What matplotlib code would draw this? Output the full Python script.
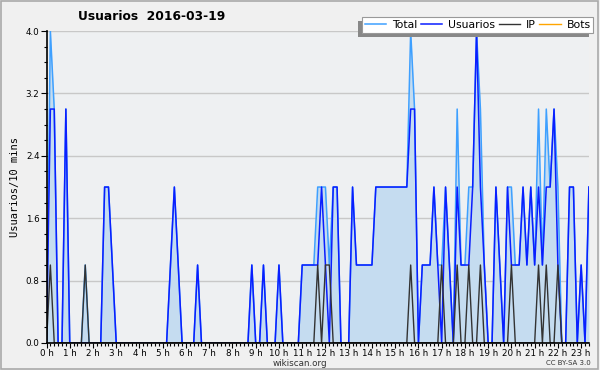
import numpy as np
import matplotlib
matplotlib.use("Agg")
import matplotlib.pyplot as plt
from matplotlib.ticker import MultipleLocator, FixedLocator, FormatStrFormatter
import matplotlib.patheffects as pe

# 10-minute slots from 00:00 to 23:20
usuarios = [0, 3, 3, 0, 0, 3, 0, 0, 0, 0, 0, 0, 0, 0, 0, 2, 2, 1, 0, 0,
            0, 0, 0, 0, 0, 0, 0, 0, 0, 0, 0, 0, 1, 2, 1, 0, 0, 0, 0, 1,
            0, 0, 0, 0, 0, 0, 0, 0, 0, 0, 0, 0, 0, 1, 0, 0, 1, 0, 0, 0,
            1, 0, 0, 0, 0, 0, 1, 1, 1, 1, 1, 2, 1, 0, 2, 2, 0, 0, 0, 2,
            1, 1, 1, 1, 1, 2, 2, 2, 2, 2, 2, 2, 2, 2, 3, 3, 0, 1, 1, 1,
            2, 1, 0, 2, 1, 0, 2, 1, 1, 1, 2, 4, 2, 1, 0, 0, 2, 1, 0, 2,
            1, 1, 1, 2, 1, 2, 1, 2, 1, 2, 2, 3, 1, 0, 0, 2, 2, 0, 1, 0,
            2]
ip = [0] * len(usuarios)
for k in [1, 10, 70, 72, 73, 94, 102, 106, 109, 112, 120, 127, 129, 132]:
    ip[k] = 1
bots = [0] * len(usuarios)
total = [u + i + b for u, i, b in zip(usuarios, ip, bots)]

hour_labels = [f"{h} h" for h in range(24)]

plt.rcParams['font.family'] = ['DejaVu Sans']
fig = plt.figure(figsize=(6.0, 3.7), dpi=100, facecolor='#f0f0f0')
ax = fig.add_axes([0.0775, 0.073, 0.904, 0.843])
ax.set_facecolor('#eef0f2')

x = np.arange(len(usuarios))
ax.fill_between(x, total, 0, color='#c5dcf0', lw=0, zorder=1)
ax.plot(x, bots, color='#ffa500', lw=1.0, zorder=1.5, label='Bots')
ax.plot(x, total, color='#3ea0ff', lw=1.1, zorder=2, label='Total')
ax.plot(x, usuarios, color='#0a1eff', lw=1.1, zorder=3, label='Usuarios')
ax.plot(x, ip, color='#333333', lw=1.0, zorder=4, label='IP')

ax.set_xlim(0, len(usuarios) - 1)
ax.set_ylim(0, 4.0)
ax.yaxis.set_major_locator(MultipleLocator(0.8))
ax.yaxis.set_minor_locator(MultipleLocator(0.2))
ax.yaxis.set_major_formatter(FormatStrFormatter('%.1f'))
ax.xaxis.set_major_locator(FixedLocator(np.arange(0, 144, 6)))
ax.set_xticklabels(hour_labels)
ax.xaxis.set_minor_locator(MultipleLocator(1))
ax.grid(axis='y', which='major', color='#c8c8c8', lw=1.0, zorder=0.5)
ax.set_axisbelow(True)

for s in ['top', 'right']:
    ax.spines[s].set_visible(False)
for s in ['left', 'bottom']:
    ax.spines[s].set_color('black')
    ax.spines[s].set_linewidth(1.2)
    ax.spines[s].set_zorder(5)

ax.tick_params(axis='both', which='major', labelsize=6.3, length=4, width=0.8, color='black', pad=1)
ax.tick_params(axis='both', which='minor', length=2.5, width=0.8, color='black')
ax.tick_params(axis='x', which='major', length=3.5, pad=0.5)

ax.set_ylabel('Usuarios/10 mins', family='DejaVu Sans Mono', fontsize=7.5, labelpad=4)

fig.text(0.252, 0.955, 'Usuarios  2016-03-19', ha='center', va='center',
         fontsize=8.8, fontweight='bold')
fig.text(0.5, 0.018, 'wikiscan.org', ha='center', va='center', fontsize=6.3, color='#333333')
fig.text(0.984, 0.018, 'CC BY-SA 3.0', ha='right', va='center', fontsize=5, color='#333333')

handles, labels = ax.get_legend_handles_labels()
order = [labels.index(n) for n in ['Total', 'Usuarios', 'IP', 'Bots']]
leg = ax.legend([handles[i] for i in order], [labels[i] for i in order],
                loc='lower right', bbox_to_anchor=(1.008, 0.995), ncol=4,
                fontsize=7.8, frameon=True, fancybox=False, shadow=False,
                handlelength=2.0, handletextpad=0.5, columnspacing=0.35,
                borderpad=0.25, borderaxespad=0.0)
leg.get_frame().set_edgecolor('#999999')
leg.get_frame().set_linewidth(0.8)
leg.get_frame().set_facecolor('white')
leg.get_frame().set_alpha(1.0)
leg.get_frame().set_path_effects([pe.SimplePatchShadow(offset=(-3, -3), shadow_rgbFace='#888888', alpha=1.0), pe.Normal()])
leg.set_zorder(10)

# figure border
fig.patches.append(matplotlib.patches.Rectangle((0.002, 0.003), 0.995, 0.994, transform=fig.transFigure,
                                                fill=False, edgecolor='#aaaaaa', lw=1.2))

fig.savefig('out.png', dpi=100, facecolor=fig.get_facecolor())
